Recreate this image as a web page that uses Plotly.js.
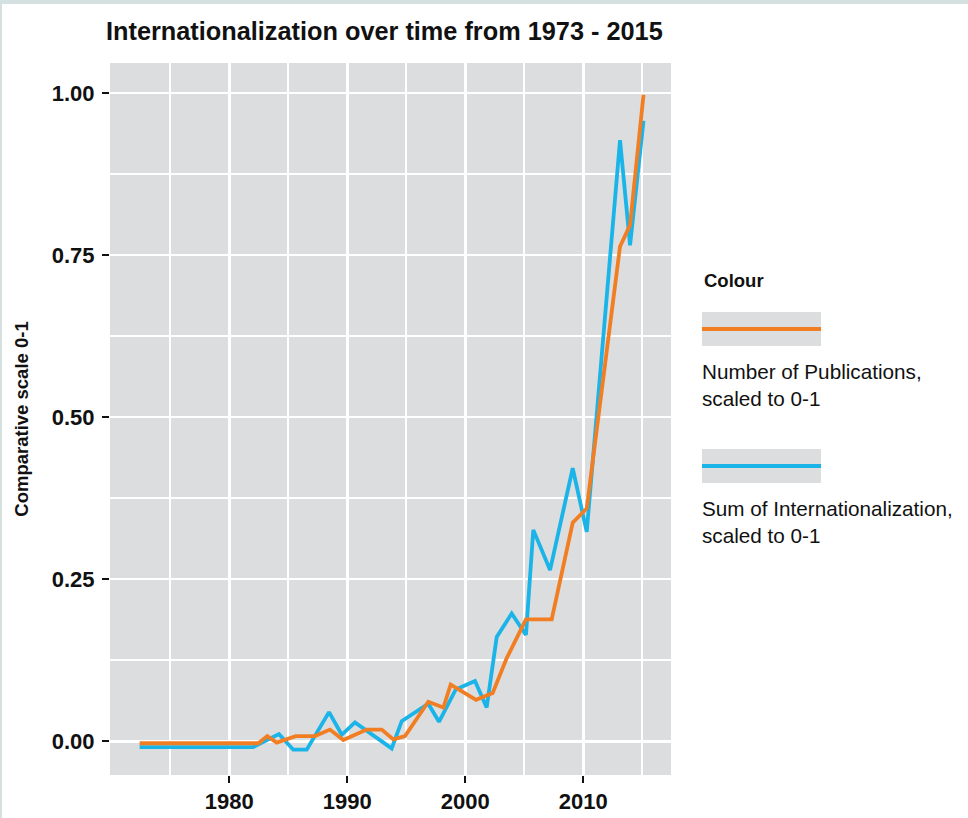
<!DOCTYPE html>
<html>
<head>
<meta charset="utf-8">
<script src="https://cdn.plot.ly/plotly-3.0.1.min.js"></script>
<style>
  html, body { margin: 0; padding: 0; background: #ffffff; }
  #chart { width: 968px; height: 818px; }
  #frame { position: fixed; left: 0; top: 0; width: 968px; height: 818px; box-sizing: border-box;
           border-top: 4px solid #d5e0e0; border-left: 2px solid #d5e0e0; pointer-events: none; }
</style>
</head>
<body>
<div id="chart"></div>
<div id="frame"></div>
<script>
// Number of Publications, scaled to 0-1
const pubYears = [1972.4, 1982.46, 1983.22, 1984.02, 1985.63, 1987.26, 1988.53, 1989.66, 1991.64, 1992.92,
                  1993.90, 1994.89, 1996.86, 1998.14, 1998.76, 2000.91, 2002.32, 2003.5, 2005.14, 2007.32,
                  2009.1, 2010.29, 2013.11, 2013.96, 2015.1];
const pubValues = [-0.003, -0.003, 0.008, -0.002, 0.008, 0.008, 0.018, 0.002, 0.018, 0.018,
                   0.003, 0.008, 0.061, 0.052, 0.0875, 0.064, 0.0745, 0.128, 0.188, 0.188,
                   0.337, 0.359, 0.763, 0.796, 0.997];

// Sum of Internationalization, scaled to 0-1
const intYears = [1972.4, 1982.03, 1984.21, 1985.42, 1986.56, 1988.45, 1989.53, 1990.65, 1993.76, 1994.61,
                  1996.86, 1997.77, 1999.19, 2000.82, 2001.81, 2002.66, 2003.93, 2005.14, 2005.76, 2007.18,
                  2009.1, 2010.29, 2013.11, 2013.96, 2015.1];
const intValues = [-0.009, -0.009, 0.011, -0.013, -0.013, 0.045, 0.010, 0.029, -0.011, 0.031,
                   0.058, 0.030, 0.080, 0.093, 0.052, 0.161, 0.197, 0.164, 0.326, 0.264,
                   0.421, 0.323, 0.927, 0.765, 0.957];

const xTickVals = [1980, 1990, 2000, 2010];
const xMinorVals = [1975, 1985, 1995, 2005, 2015];
const yTickVals = [0, 0.25, 0.5, 0.75, 1.0];
const yTickText = ["0.00", "0.25", "0.50", "0.75", "1.00"];

const seriesNames = ["Number of Publications,<br>scaled to 0-1", "Sum of Internationalization,<br>scaled to 0-1"];
const seriesColors = ["#F27E23", "#1AB4E8"];
const legendTitle = "Colour";
const chartTitle = "Internationalization over time from 1973 - 2015";
const yTitle = "Comparative scale 0-1";

const W = 968, H = 818;
const L = 110, R = 671, T = 63, B = 775;
const px = x => (x - L) / (R - L);
const py = y => (B - y) / (B - T);

const FONT = "Liberation Sans, Arial, sans-serif";

const traces = [
  { x: pubYears, y: pubValues, type: "scatter", mode: "lines", name: seriesNames[0],
    line: { color: seriesColors[0], width: 3.8 }, showlegend: false },
  { x: intYears, y: intValues, type: "scatter", mode: "lines", name: seriesNames[1],
    line: { color: seriesColors[1], width: 3.8 }, showlegend: false }
];
const data = [traces[1], traces[0]];

const keyBoxes = [[312, 346], [449, 483]];
const shapes = [];
const annotations = [];
keyBoxes.forEach((b, i) => {
  shapes.push({ type: "rect", xref: "paper", yref: "paper", x0: px(702), x1: px(821), y0: py(b[1]), y1: py(b[0]),
                fillcolor: "#DCDDDF", line: { width: 0 }, layer: "above" });
  const mid = (b[0] + b[1]) / 2;
  shapes.push({ type: "line", xref: "paper", yref: "paper", x0: px(702), x1: px(821), y0: py(mid), y1: py(mid),
                line: { color: seriesColors[i], width: 3.8 }, layer: "above" });
});
annotations.push({ text: "<b>" + legendTitle + "</b>", xref: "paper", yref: "paper", x: px(702), y: py(280),
                   xanchor: "left", yanchor: "middle", showarrow: false, font: { family: FONT, size: 18.5, color: "#111" } });
[385, 522].forEach((yc, i) => {
  annotations.push({ text: seriesNames[i], xref: "paper", yref: "paper", x: px(700), y: py(yc),
                     xanchor: "left", yanchor: "middle", align: "left", showarrow: false,
                     font: { family: FONT, size: 20.7, color: "#111" } });
});

const layout = {
  width: W, height: H,
  margin: { l: L, r: W - R, t: T, b: H - B, pad: 0 },
  paper_bgcolor: "#ffffff",
  plot_bgcolor: "#DCDDDF",
  font: { family: FONT, color: "#111" },
  title: { text: "<b>" + chartTitle + "</b>", x: 106 / W, xref: "container", xanchor: "left",
           y: 1 - 31 / H, yref: "container", yanchor: "middle",
           font: { family: FONT, size: 25.3, color: "#111" } },
  xaxis: {
    range: [1969.89, 2017.43], tickmode: "array", tickvals: xTickVals, ticktext: xTickVals.map(String),
    showgrid: true, gridcolor: "#ffffff", gridwidth: 2.6, zeroline: false, showline: false,
    ticks: "outside", ticklen: 7, tickwidth: 2, tickcolor: "#111",
    tickfont: { family: FONT, size: 22, color: "#111", weight: "bold" },
    minor: { tickmode: "array", tickvals: xMinorVals, showgrid: true, gridcolor: "#ffffff", gridwidth: 2.2, ticks: "" }
  },
  yaxis: {
    range: [-0.052, 1.046], tickmode: "array", tickvals: yTickVals, ticktext: yTickText,
    showgrid: true, gridcolor: "#ffffff", gridwidth: 2.6, zeroline: false, showline: false,
    ticks: "outside", ticklen: 7, tickwidth: 2, tickcolor: "#111", ticklabelstandoff: 3,
    tickfont: { family: FONT, size: 22, color: "#111", weight: "bold" },
    minor: { tickmode: "array", tickvals: [0.125, 0.375, 0.625, 0.875], showgrid: true, gridcolor: "#ffffff", gridwidth: 2.2, ticks: "" },
    title: { text: "<b>" + yTitle + "</b>", standoff: 18, font: { family: FONT, size: 18.5, color: "#111" } }
  },
  shapes: shapes,
  annotations: annotations,
  showlegend: false
};

Plotly.newPlot("chart", data, layout, { displayModeBar: false, staticPlot: true });
</script>
</body>
</html>
